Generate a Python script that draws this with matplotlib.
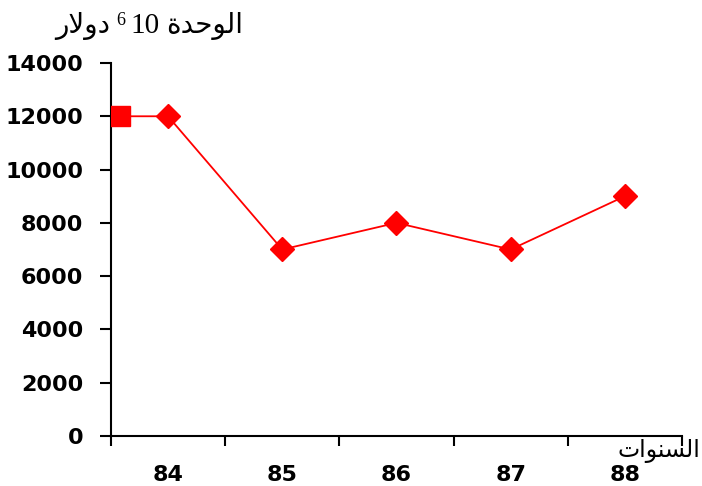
import numpy as np
import matplotlib.pyplot as plt

# Arabic strings are stored in presentation forms, visual (left-to-right) order,
# since matplotlib does no shaping or bidi reordering
word_unit = '\uFE93\uFEAA\uFEA3\uFEEE\uFEDF\uFE8D'
word_dollar = '\uFEAD\uFEFB\uFEED\uFEA9'
year_label = '\uFE95\uFE8D\uFEEE\uFEE8\uFEB4\uFEDF\uFE8D'

years = ['84', '85', '86', '87', '88']
values = [12000, 7000, 8000, 7000, 9000]

# opening value sits on the axis edge, drawn as a square
start_pos = -0.42
start_value = 12000

y_ticks = [0, 2000, 4000, 6000, 8000, 10000, 12000, 14000]

red = '#ff0000'
arabic_fonts = ['Liberation Serif', 'DejaVu Sans']

fig = plt.figure(figsize=(7.02, 4.86), dpi=100)
ax = fig.add_axes([0.158, 0.1029, 0.8135, 0.7675])

pos = np.arange(len(years))
ax.plot(np.r_[start_pos, pos], np.r_[start_value, values], color=red, lw=1.3, zorder=2)
ax.plot(pos, values, ls='none', marker='D', ms=12.5, color=red, mec=red, zorder=3)
ax.plot([start_pos], [start_value], ls='none', marker='s', ms=14.5, color=red, zorder=3)

ax.set_xlim(-0.5, len(years) - 0.5)
ax.set_ylim(0, 14000)

for side in ['top', 'right']:
    ax.spines[side].set_visible(False)
for side in ['left', 'bottom']:
    ax.spines[side].set_linewidth(1.5)

# category boundaries get the tick marks, labels go in the middle
ax.set_xticks(np.arange(len(years) + 1) - 0.5)
ax.set_xticklabels([])
ax.set_xticks(pos, minor=True)
ax.set_xticklabels(years, minor=True)
ax.tick_params(axis='x', which='major', direction='out', length=7, width=1.5)
ax.tick_params(axis='x', which='minor', length=0, pad=21)

ax.set_yticks(y_ticks)
ax.tick_params(axis='y', direction='out', length=8, width=1.5, pad=12)

for lab in ax.get_xticklabels(minor=True) + ax.get_yticklabels():
    lab.set_fontweight('bold')
    lab.set_fontsize(16)
    lab.set_family('DejaVu Sans')

# unit label: pieces laid out right to left, with a raised "6" for 10^6
renderer = fig.canvas.get_renderer()
x_px = 243
base_px = 486 - 33
pieces = [(word_unit, 20, 0), ('10', 21, 0), ('6', 13, 8), (word_dollar, 20, 0)]
for text, size, rise in pieces:
    t = fig.text(x_px / 702, (base_px + rise) / 486, text, ha='right', va='baseline',
                 fontsize=size, family=arabic_fonts)
    x_px -= t.get_window_extent(renderer).width + 6

fig.text(700 / 702, 1 - 451 / 486, year_label, ha='right', va='center',
         fontsize=17, family=arabic_fonts)

fig.savefig('out.png', dpi=100)
